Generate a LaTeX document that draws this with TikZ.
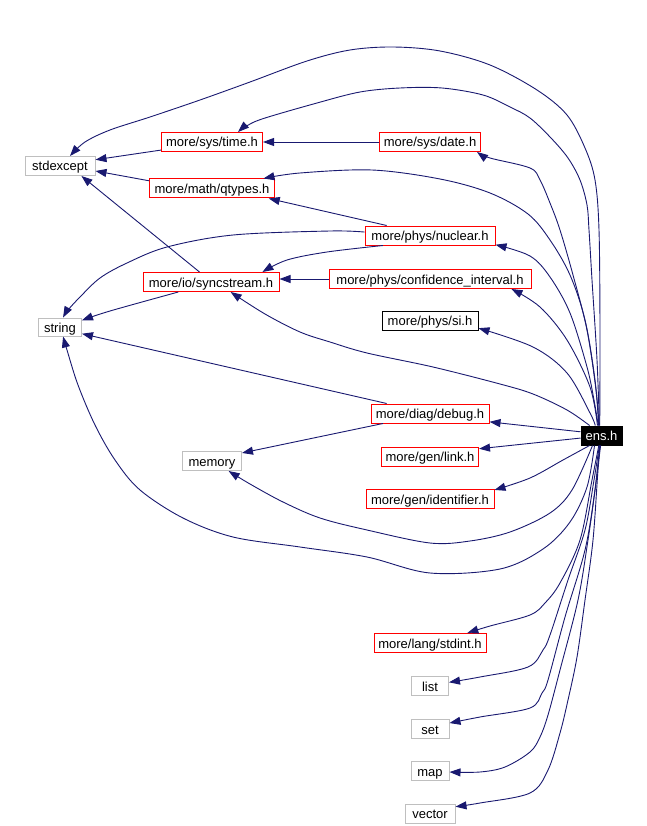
\documentclass[tikz,border=0pt]{standalone}
\usepackage{fontspec}
\setmainfont{Liberation Sans}
\usetikzlibrary{arrows.meta}
\definecolor{edgeblue}{RGB}{25,25,112}
\definecolor{boxgrey}{RGB}{191,191,191}
\begin{document}
\begin{tikzpicture}[x=1pt,y=-1pt,
  box/.style={draw, line width=1pt, inner sep=0pt, minimum height=19pt,
    text height=10pt, text depth=0pt, font=\fontsize{13}{15}\selectfont},
  redbox/.style={box, draw=red},
  greybox/.style={box, draw=boxgrey},
  blackbox/.style={box, draw=black},
  mainbox/.style={box, draw=black, fill=black, text=white},
  edge/.style={draw=edgeblue, line width=0.9pt, -{Triangle[length=11pt,width=8pt]}},
  sm/.style={smooth, tension=0.55}]
\useasboundingbox (0,0) rectangle (646,826);

% nodes
\node[greybox, minimum width=70pt]  (stdexcept) at (60,166) {stdexcept};
\node[redbox,  minimum width=101pt] (time)      at (212,142) {more/sys/time.h};
\node[redbox,  minimum width=101pt] (date)      at (430,142) {more/sys/date.h};
\node[redbox,  minimum width=125pt] (qtypes)    at (212,188.5) {more/math/qtypes.h};
\node[redbox,  minimum width=130pt] (nuclear)   at (430,235.5) {more/phys/nuclear.h};
\node[redbox,  minimum width=136pt] (sync)      at (211,282) {more/io/syncstream.h};
\node[redbox,  minimum width=202pt] (conf)      at (430,279) {more/phys/confidence\_interval.h};
\node[blackbox,minimum width=96pt]  (si)        at (430,320.5) {more/phys/si.h};
\node[greybox, minimum width=43pt, minimum height=18pt] (string) at (60,327) {string};
\node[redbox,  minimum width=118pt] (debug)     at (430,413.5) {more/diag/debug.h};
\node[mainbox, minimum width=41pt]  (ens)       at (601.5,435.5) {ens.h};
\node[greybox, minimum width=59pt]  (memory)    at (212,461) {memory};
\node[redbox,  minimum width=97pt]  (link)      at (430,456.5) {more/gen/link.h};
\node[redbox,  minimum width=128pt] (ident)     at (430,499) {more/gen/identifier.h};
\node[redbox,  minimum width=112pt] (stdint)    at (430,643) {more/lang/stdint.h};
\node[greybox, minimum width=37pt]  (list)      at (430,686) {list};
\node[greybox, minimum width=38pt]  (set)       at (430,729) {set};
\node[greybox, minimum width=38pt]  (map)       at (430,771) {map};
\node[greybox, minimum width=50pt]  (vector)    at (430,813.5) {vector};

% edges among headers
\draw[edge] (time.189) -- (stdexcept.10);
\draw[edge] (date.west) -- (date.west -| time.east);
\draw[edge] (qtypes.173) -- (stdexcept.-8);
\draw[edge] (sync.139) -- (stdexcept.-25);
\draw[edge] (nuclear.167) -- (qtypes.-10);
\draw[edge] plot[sm] coordinates {(nuclear.177) (330,231) (233,235) (167,247) (127,263) (100,278) (80,297) (68,310) (string.72)};
\draw[edge] plot[sm] coordinates {(nuclear.192) (327,252) (287,260) (sync.11)};
\draw[edge] (conf.west) -- (conf.west -| sync.east);
\draw[edge] plot[sm] coordinates {(sync.197) (110,311) (string.17)};
\draw[edge] (debug.167) -- (string.-17);
\draw[edge] (debug.192) -- (memory.15);

% edges from ens.h (upwards)
\draw[edge] plot[sm] coordinates {(ens.100) (600,330) (599,230) (595,180) (585,148) (567,115) (537,90) (490,65) (440,51) (393,47) (350,50) (307,61) (250,82) (200,100) (150,117) (110,130) (85,142) (stdexcept.45)};
\draw[edge] plot[sm] coordinates {(ens.102) (597,360) (592,280) (589,230) (587,205) (580,180) (568,158) (551,138) (530,118) (510,107) (483,95) (442,88) (400,88) (360,92) (317,103) (262,119) (245,127) (time.21)};
\draw[edge] plot[sm] coordinates {(ens.104) (596,390) (587,330) (573,275) (560,230) (550,203) (540,180) (530,168) (490,158) (date.-12)};
\draw[edge] plot[sm] coordinates {(ens.106) (595,380) (585,320) (570,275) (550,240) (528,214) (490,193) (440,179) (372,170) (300,173) (qtypes.11)};
\draw[edge] plot[sm] coordinates {(ens.108) (594,400) (587,367) (570,313) (550,277) (530,256) (nuclear.-8)};
\draw[edge] plot[sm] coordinates {(ens.112) (590,387) (567,340) (540,307) (conf.-7)};
\draw[edge] plot[sm] coordinates {(ens.122) (590,413) (567,373) (533,347) (si.-9)};
\draw[edge] plot[sm] coordinates {(ens.140) (567,410) (533,394) (500,384) (433,367) (367,353) (330,342) (300,332) (265,314) (sync.-27)};
\draw[edge] (ens.170) -- (debug.-8);
\draw[edge] (ens.187) -- (link.9);

% edges from ens.h (downwards)
\draw[edge] plot[sm] coordinates {(ens.220) (563,460) (530,478) (ident.8)};
\draw[edge] plot[sm] coordinates {(ens.228) (572,490) (550,513) (510,532) (470,541) (430,543) (367,530) (320,518) (283,502) (250,484) (memory.-31)};
\draw[edge] plot[sm] coordinates {(ens.235) (587,487) (570,522) (543,549) (500,569) (430,573) (367,557) (300,547) (233,537) (183,518) (140,490) (115,460) (95,425) (78,385) (67,350) (string.-72)};
\draw[edge] plot[sm] coordinates {(ens.255) (592,480) (580,540) (560,583) (545,603) (530,615) (490,626) (stdint.15)};
\draw[edge] plot[sm] coordinates {(ens.258) (594,480) (585,530) (568,580) (550,635) (543,650) (528,667) (480,677) (list.11)};
\draw[edge] plot[sm] coordinates {(ens.260) (595,490) (585,550) (565,617) (548,680) (542,693) (530,708) (480,717) (set.17)};
\draw[edge] plot[sm] coordinates {(ens.262) (595,490) (588,540) (578,600) (560,670) (548,715) (540,737) (530,752) (505,767) (480,772) (map.-3)};
\draw[edge] plot[sm] coordinates {(ens.265) (598,470) (593,540) (585,600) (577,657) (568,700) (560,733) (548,770) (530,793) (480,803) (vector.15)};
\end{tikzpicture}
\end{document}
